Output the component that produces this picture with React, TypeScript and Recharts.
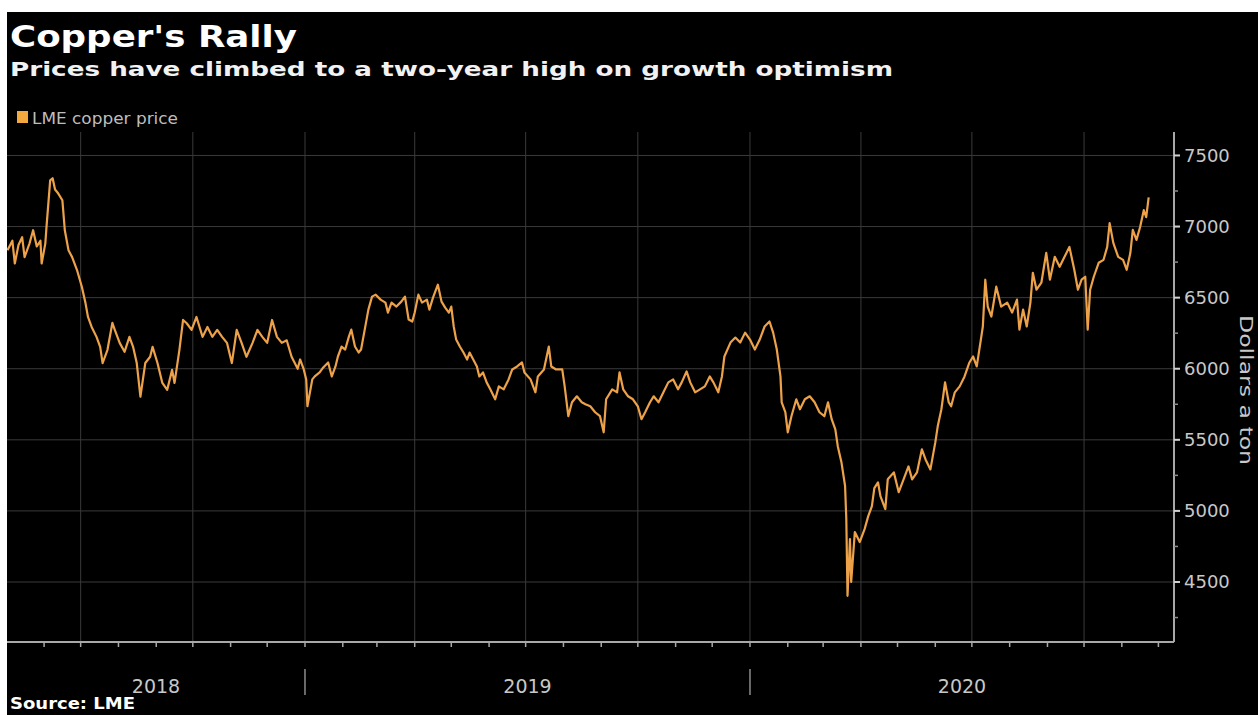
import React from 'react';
import { LineChart, Line, XAxis, YAxis, ReferenceLine } from 'recharts';

// LME copper, USD per tonne (roughly every few trading days)
const copper2018: [string, number][] = [
  ['2018-05-02', 6834], ['2018-05-06', 6900], ['2018-05-08', 6740], ['2018-05-11', 6870],
  ['2018-05-14', 6925], ['2018-05-16', 6785], ['2018-05-20', 6880], ['2018-05-23', 6974],
  ['2018-05-26', 6860], ['2018-05-29', 6900], ['2018-05-30', 6740], ['2018-06-02', 6880],
  ['2018-06-03', 7000], ['2018-06-06', 7325], ['2018-06-08', 7340], ['2018-06-10', 7260],
  ['2018-06-12', 7240], ['2018-06-16', 7185], ['2018-06-18', 6974], ['2018-06-21', 6834],
  ['2018-06-24', 6785], ['2018-06-28', 6694], ['2018-07-02', 6575], ['2018-07-05', 6460],
  ['2018-07-07', 6364], ['2018-07-10', 6294], ['2018-07-14', 6224], ['2018-07-17', 6154],
  ['2018-07-19', 6040], ['2018-07-23', 6133], ['2018-07-27', 6322], ['2018-07-29', 6273],
  ['2018-08-02', 6182], ['2018-08-06', 6119], ['2018-08-10', 6224], ['2018-08-13', 6154],
  ['2018-08-16', 6040], ['2018-08-19', 5803], ['2018-08-23', 6040], ['2018-08-27', 6084],
  ['2018-08-29', 6154], ['2018-09-02', 6040], ['2018-09-06', 5900], ['2018-09-10', 5852],
  ['2018-09-14', 5992], ['2018-09-16', 5900], ['2018-09-20', 6133], ['2018-09-23', 6343],
  ['2018-09-26', 6320], ['2018-09-30', 6273], ['2018-10-04', 6364], ['2018-10-09', 6224],
  ['2018-10-13', 6294], ['2018-10-17', 6224], ['2018-10-21', 6273], ['2018-10-25', 6224],
  ['2018-10-29', 6182], ['2018-11-02', 6040], ['2018-11-06', 6273], ['2018-11-10', 6182],
  ['2018-11-14', 6084], ['2018-11-19', 6182], ['2018-11-23', 6273], ['2018-11-27', 6224],
  ['2018-12-01', 6182], ['2018-12-05', 6343], ['2018-12-09', 6224], ['2018-12-13', 6182],
  ['2018-12-17', 6200], ['2018-12-21', 6084], ['2018-12-26', 6000], ['2018-12-28', 6065],
  ['2018-12-31', 5995],
];

const copper2019: [string, number][] = [
  ['2019-01-02', 5925], ['2019-01-03', 5736], ['2019-01-07', 5925], ['2019-01-09', 5946],
  ['2019-01-13', 5974], ['2019-01-16', 6009], ['2019-01-20', 6044], ['2019-01-23', 5946],
  ['2019-01-26', 6016], ['2019-01-28', 6086], ['2019-01-31', 6156], ['2019-02-03', 6135],
  ['2019-02-06', 6226], ['2019-02-08', 6275], ['2019-02-11', 6156], ['2019-02-14', 6114],
  ['2019-02-16', 6135], ['2019-02-19', 6275], ['2019-02-22', 6416], ['2019-02-25', 6507],
  ['2019-02-28', 6521], ['2019-03-04', 6486], ['2019-03-08', 6465], ['2019-03-10', 6395],
  ['2019-03-13', 6465], ['2019-03-17', 6437], ['2019-03-21', 6472], ['2019-03-24', 6507],
  ['2019-03-27', 6346], ['2019-03-30', 6332], ['2019-04-01', 6395], ['2019-04-04', 6521],
  ['2019-04-07', 6465], ['2019-04-11', 6486], ['2019-04-13', 6416], ['2019-04-16', 6500],
  ['2019-04-20', 6591], ['2019-04-23', 6472], ['2019-04-26', 6430], ['2019-04-29', 6395],
  ['2019-05-01', 6437], ['2019-05-03', 6297], ['2019-05-05', 6205], ['2019-05-08', 6156],
  ['2019-05-11', 6114], ['2019-05-14', 6065], ['2019-05-16', 6114], ['2019-05-19', 6065],
  ['2019-05-22', 6016], ['2019-05-24', 5946], ['2019-05-27', 5974], ['2019-05-30', 5904],
  ['2019-06-02', 5855], ['2019-06-06', 5785], ['2019-06-09', 5876], ['2019-06-13', 5855],
  ['2019-06-17', 5925], ['2019-06-20', 5995], ['2019-06-24', 6016], ['2019-06-28', 6044],
  ['2019-06-30', 5974], ['2019-07-05', 5925], ['2019-07-09', 5834], ['2019-07-11', 5946],
  ['2019-07-16', 5995], ['2019-07-20', 6156], ['2019-07-22', 6016], ['2019-07-26', 5995],
  ['2019-07-31', 5995], ['2019-08-02', 5876], ['2019-08-05', 5666], ['2019-08-08', 5764],
  ['2019-08-12', 5806], ['2019-08-16', 5764], ['2019-08-19', 5750], ['2019-08-23', 5736],
  ['2019-08-27', 5694], ['2019-08-31', 5666], ['2019-09-03', 5553], ['2019-09-05', 5785],
  ['2019-09-10', 5855], ['2019-09-14', 5834], ['2019-09-16', 5974], ['2019-09-19', 5855],
  ['2019-09-23', 5806], ['2019-09-27', 5785], ['2019-10-01', 5736], ['2019-10-04', 5645],
  ['2019-10-07', 5694], ['2019-10-11', 5764], ['2019-10-14', 5806], ['2019-10-18', 5764],
  ['2019-10-22', 5834], ['2019-10-26', 5904], ['2019-10-30', 5925], ['2019-11-03', 5855],
  ['2019-11-06', 5904], ['2019-11-10', 5981], ['2019-11-13', 5904], ['2019-11-17', 5834],
  ['2019-11-21', 5855], ['2019-11-25', 5876], ['2019-11-29', 5946], ['2019-12-02', 5904],
  ['2019-12-06', 5834], ['2019-12-09', 5946], ['2019-12-11', 6086], ['2019-12-16', 6184],
  ['2019-12-20', 6219], ['2019-12-24', 6184], ['2019-12-28', 6254],
];

const copper2020: [string, number][] = [
  ['2020-01-01', 6205], ['2020-01-05', 6135], ['2020-01-09', 6205], ['2020-01-13', 6297],
  ['2020-01-17', 6332], ['2020-01-20', 6254], ['2020-01-23', 6135], ['2020-01-26', 5946],
  ['2020-01-27', 5764], ['2020-01-30', 5694], ['2020-02-01', 5553], ['2020-02-04', 5666],
  ['2020-02-08', 5785], ['2020-02-11', 5715], ['2020-02-15', 5785], ['2020-02-19', 5806],
  ['2020-02-23', 5764], ['2020-02-27', 5694], ['2020-03-02', 5666], ['2020-03-05', 5764],
  ['2020-03-08', 5645], ['2020-03-11', 5574], ['2020-03-13', 5455], ['2020-03-16', 5343],
  ['2020-03-19', 5175], ['2020-03-20', 4943], ['2020-03-21', 4403], ['2020-03-23', 4802],
  ['2020-03-24', 4500], ['2020-03-27', 4851], ['2020-03-31', 4781], ['2020-04-04', 4872],
  ['2020-04-07', 4963], ['2020-04-10', 5033], ['2020-04-12', 5160], ['2020-04-15', 5201],
  ['2020-04-17', 5104], ['2020-04-21', 5013], ['2020-04-23', 5222], ['2020-04-28', 5271],
  ['2020-05-02', 5132], ['2020-05-06', 5222], ['2020-05-10', 5313], ['2020-05-13', 5222],
  ['2020-05-17', 5271], ['2020-05-21', 5433], ['2020-05-24', 5362], ['2020-05-28', 5292],
  ['2020-06-01', 5482], ['2020-06-03', 5595], ['2020-06-06', 5715], ['2020-06-09', 5904],
  ['2020-06-12', 5764], ['2020-06-14', 5736], ['2020-06-17', 5834], ['2020-06-21', 5876],
  ['2020-06-25', 5946], ['2020-06-29', 6044], ['2020-07-02', 6086], ['2020-07-05', 6016],
  ['2020-07-08', 6184], ['2020-07-10', 6297], ['2020-07-12', 6626], ['2020-07-14', 6437],
  ['2020-07-17', 6367], ['2020-07-21', 6577], ['2020-07-25', 6437], ['2020-07-30', 6465],
  ['2020-08-03', 6395], ['2020-08-07', 6486], ['2020-08-09', 6275], ['2020-08-12', 6416],
  ['2020-08-15', 6297], ['2020-08-18', 6465], ['2020-08-20', 6675], ['2020-08-23', 6556],
  ['2020-08-27', 6605], ['2020-08-31', 6815], ['2020-09-03', 6626], ['2020-09-07', 6787],
  ['2020-09-11', 6717], ['2020-09-15', 6787], ['2020-09-19', 6857], ['2020-09-23', 6696],
  ['2020-09-26', 6556], ['2020-09-29', 6626], ['2020-10-02', 6647], ['2020-10-04', 6275],
  ['2020-10-06', 6556], ['2020-10-09', 6647], ['2020-10-13', 6745], ['2020-10-17', 6766],
  ['2020-10-20', 6857], ['2020-10-22', 7024], ['2020-10-25', 6885], ['2020-10-29', 6787],
  ['2020-11-02', 6766], ['2020-11-05', 6696], ['2020-11-08', 6815], ['2020-11-10', 6976],
  ['2020-11-13', 6906], ['2020-11-16', 6997], ['2020-11-19', 7115], ['2020-11-21', 7066],
  ['2020-11-23', 7206],
];

const yTicks = [4500, 5000, 5500, 6000, 6500, 7000, 7500];
const yMinorTicks = [4250, 4750, 5250, 5750, 6250, 6750, 7250];
const years = ['2018', '2019', '2020'];

const X_START = Date.UTC(2018, 4, 1, 14);
const X_END = Date.UTC(2020, 11, 13, 19);
const Y_DOMAIN: [number, number] = [4078, 7665];

const FONT = '"DejaVu Sans", Verdana, sans-serif';
const ORANGE = '#eda24a';
const GRID = '#3a3a3a';
const AXIS = '#a8a8a8';
const LABEL = '#c8c8c8';

const data = [...copper2018, ...copper2019, ...copper2020].map(([d, price]) => ({
  t: Date.parse(d + 'T00:00:00Z'),
  price,
}));

// month starts inside the visible range -> small ticks
const monthTicks: number[] = [];
for (let y = 2018; y <= 2020; y++) {
  for (let m = 0; m < 12; m++) {
    const t = Date.UTC(y, m, 1);
    if (t > X_START && t < X_END) monthTicks.push(t);
  }
}
const quarterTicks = monthTicks.filter(t => new Date(t).getUTCMonth() % 3 === 0);

// year labels sit in the middle of the visible part of each year
const yearMids = years.map(yr => {
  const a = Math.max(Date.UTC(+yr, 0, 1), X_START);
  const b = Math.min(Date.UTC(+yr + 1, 0, 1), X_END);
  return Math.round((a + b) / 2);
});

const XTick = (props: any) => {
  const { x, y, payload } = props;
  const v = payload.value;
  const yi = yearMids.indexOf(v);
  if (yi >= 0) {
    return (
      <text x={x} y={y + 51} textAnchor="middle" fill={LABEL} fontSize={19} fontFamily={FONT}>
        {years[yi]}
      </text>
    );
  }
  const isJan = new Date(v).getUTCMonth() === 0;
  return (
    <g>
      <line x1={x} x2={x} y1={y} y2={y + 5} stroke={AXIS} strokeWidth={1.5} />
      {isJan && <line x1={x} x2={x} y1={y + 27} y2={y + 53} stroke="#8c8c8c" strokeWidth={1.5} />}
    </g>
  );
};

const YTick = (props: any) => {
  const { x, y, payload } = props;
  const v = payload.value;
  if (v % 500 !== 0) {
    return <line x1={x} x2={x + 4} y1={y} y2={y} stroke="#8c8c8c" strokeWidth={1.5} />;
  }
  return (
    <g>
      <line x1={x} x2={x + 6} y1={y} y2={y} stroke="#d0d0d0" strokeWidth={2} />
      <text x={x + 10} y={y} dy="0.36em" fill={LABEL} fontSize={18} fontFamily={FONT}>
        {v}
      </text>
    </g>
  );
};

export default function App() {
  return (
    <div style={{ position: 'absolute', left: 0, top: 0, width: 1258, height: 715, background: '#fff', overflow: 'hidden' }}>
      <div style={{ position: 'absolute', left: 7, top: 12, width: 1251, height: 703, background: '#000' }}>
        <LineChart width={1251} height={703} data={data} margin={{ top: 120, right: 0, bottom: 0, left: 0 }}>
          {quarterTicks.map(t => (
            <ReferenceLine key={'q' + t} x={t} stroke={GRID} strokeWidth={1} />
          ))}
          {yTicks.map(v => (
            <ReferenceLine key={'h' + v} y={v} stroke={GRID} strokeWidth={1} />
          ))}
          <XAxis
            dataKey="t"
            type="number"
            domain={[X_START, X_END]}
            allowDataOverflow
            ticks={[...monthTicks, ...yearMids].sort((a, b) => a - b)}
            interval={0}
            tick={<XTick />}
            tickLine={false}
            tickSize={0}
            tickMargin={0}
            height={73}
            axisLine={{ stroke: AXIS, strokeWidth: 2 }}
          />
          <YAxis
            orientation="right"
            type="number"
            domain={Y_DOMAIN}
            allowDataOverflow
            ticks={[...yMinorTicks, ...yTicks].sort((a, b) => a - b)}
            interval={0}
            tick={<YTick />}
            tickLine={false}
            tickSize={0}
            tickMargin={0}
            width={84}
            axisLine={{ stroke: AXIS, strokeWidth: 2 }}
          />
          <Line
            type="linear"
            dataKey="price"
            stroke={ORANGE}
            strokeWidth={2.2}
            strokeLinejoin="round"
            dot={false}
            isAnimationActive={false}
          />
        </LineChart>
      </div>
      <svg width={1258} height={715} style={{ position: 'absolute', left: 0, top: 0, pointerEvents: 'none' }}>
        <text x={10} y={47} fill="#fff" fontSize={30} fontWeight="bold" fontFamily={FONT} textLength={287} lengthAdjust="spacingAndGlyphs">
          Copper's Rally
        </text>
        <text x={10} y={76} fill="#f2f2f2" fontSize={20} fontWeight="bold" fontFamily={FONT} textLength={883} lengthAdjust="spacingAndGlyphs">
          Prices have climbed to a two-year high on growth optimism
        </text>
        <rect x={17} y={111} width={11} height={12} fill="#f4a93e" />
        <text x={32} y={124} fill="#bdbdbd" fontSize={15} fontFamily={FONT} textLength={146} lengthAdjust="spacingAndGlyphs">
          LME copper price
        </text>
        <text x={1240} y={390} transform="rotate(90 1240 390)" textAnchor="middle" fill={LABEL} fontSize={18} fontFamily={FONT} textLength={150} lengthAdjust="spacingAndGlyphs">
          Dollars a ton
        </text>
        <text x={10} y={709} fill="#fff" fontSize={16} fontWeight="bold" fontFamily={FONT} textLength={125} lengthAdjust="spacingAndGlyphs">
          Source: LME
        </text>
      </svg>
    </div>
  );
}
